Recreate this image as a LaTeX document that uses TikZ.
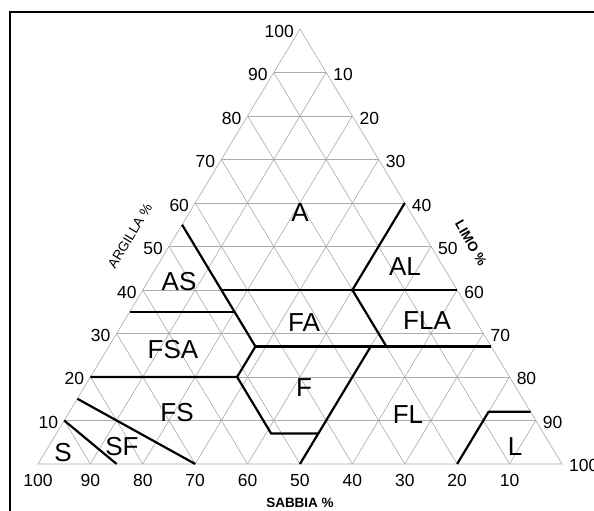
\documentclass[tikz,border=0pt]{standalone}
\usepackage{fontspec}
\setmainfont{Liberation Sans}
\begin{document}
\begin{tikzpicture}[x=1pt,y=-1pt,
  gridline/.style={draw=black!33,line width=0.6pt},
  bound/.style={draw=black,line width=2.2pt,line join=miter},
  ticklab/.style={inner sep=0pt,font=\fontsize{17.5}{19}\selectfont},
  zone/.style={inner sep=0pt,font=\fontsize{26}{29}\selectfont},
  axistitle/.style={inner sep=0pt,font=\fontsize{13.5}{15}\selectfont}]
\useasboundingbox (0,0) rectangle (594,511);
\fill[white] (0,0) rectangle (594,511);
% frame
\draw[line width=1.8pt] (10,520) -- (10,12) -- (600,12);
% triangle corners
\coordinate (Sa) at (38,464);
\coordinate (Si) at (562,464);
\coordinate (Cl) at (300,29);
% grid
\foreach \c in {1,2,...,9} {
  \pgfmathsetmacro\r{10-\c}
  \draw[gridline] (barycentric cs:Sa=\r,Cl=\c,Si=0) -- (barycentric cs:Sa=0,Cl=\c,Si=\r);
  \draw[gridline] (barycentric cs:Sa=\c,Cl=0,Si=\r) -- (barycentric cs:Sa=\c,Cl=\r,Si=0);
  \draw[gridline] (barycentric cs:Sa=\r,Cl=0,Si=\c) -- (barycentric cs:Sa=0,Cl=\r,Si=\c);
}
\draw[gridline] (Sa) -- (Si) -- (Cl) -- cycle;
% tick labels
\foreach \c in {1,2,...,10} {
  \pgfmathsetmacro\r{10-\c}
  \pgfmathtruncatemacro\v{10*\c}
  \node[ticklab,anchor=east,xshift=-6pt,yshift=-2pt] (cl\v) at (barycentric cs:Sa=\r,Cl=\c,Si=0) {\v};
  \node[ticklab,anchor=west,xshift=7pt,yshift=-2pt] (si\v) at (barycentric cs:Sa=0,Cl=\r,Si=\c) {\v};
  \node[ticklab,anchor=center,yshift=-17pt] (sa\v) at (barycentric cs:Sa=\c,Cl=0,Si=\r) {\v};
}
% axis titles
\node[axistitle,rotate=59] (argilla) at (130,236) {ARGILLA \%};
\node[axistitle,font=\fontsize{13.5}{15}\selectfont\bfseries,rotate=-60] (limo) at (471,243) {LIMO \%};
\node[axistitle,font=\fontsize{13.5}{15}\selectfont\bfseries] (sabbia) at (300,503) {SABBIA \%};
% boundary points (weights in tenths)
\coordinate (p1) at (barycentric cs:Sa=4.5,Cl=5.5,Si=0);
\coordinate (p2) at (barycentric cs:Sa=4.5,Cl=4.0,Si=1.5);
\coordinate (p3) at (barycentric cs:Sa=4.5,Cl=3.5,Si=2.0);
\coordinate (p4) at (barycentric cs:Sa=4.5,Cl=2.7,Si=2.8);
\coordinate (p5) at (barycentric cs:Sa=5.2,Cl=2.0,Si=2.8);
\coordinate (p6) at (barycentric cs:Sa=5.2,Cl=0.7,Si=4.1);
\coordinate (p7) at (barycentric cs:Sa=4.3,Cl=0.7,Si=5.0);
\coordinate (p8) at (barycentric cs:Sa=5.0,Cl=0,Si=5.0);
\coordinate (p9) at (barycentric cs:Sa=2.3,Cl=2.7,Si=5.0);
\coordinate (p10) at (barycentric cs:Sa=2.0,Cl=2.7,Si=5.3);
\coordinate (p11) at (barycentric cs:Sa=2.0,Cl=4.0,Si=4.0);
\coordinate (p12) at (barycentric cs:Sa=0,Cl=6.0,Si=4.0);
\coordinate (p13) at (barycentric cs:Sa=0,Cl=4.0,Si=6.0);
\coordinate (p14) at (barycentric cs:Sa=0,Cl=2.7,Si=7.3);
\coordinate (p15) at (barycentric cs:Sa=6.5,Cl=3.5,Si=0);
\coordinate (p16) at (barycentric cs:Sa=8.0,Cl=2.0,Si=0);
\coordinate (p17) at (barycentric cs:Sa=9.0,Cl=1.0,Si=0);
\coordinate (p18) at (barycentric cs:Sa=8.5,Cl=0,Si=1.5);
\coordinate (p19) at (barycentric cs:Sa=8.5,Cl=1.5,Si=0);
\coordinate (p20) at (barycentric cs:Sa=7.0,Cl=0,Si=3.0);
\coordinate (p21) at (barycentric cs:Sa=2.0,Cl=0,Si=8.0);
\coordinate (p22) at (barycentric cs:Sa=0.8,Cl=1.2,Si=8.0);
\coordinate (p23) at (barycentric cs:Sa=0,Cl=1.2,Si=8.8);
% boundaries
\draw[bound] (p1) -- (p4);
\draw[bound] (p2) -- (p13);
\draw[bound] (p12) -- (p11) -- (p10);
\draw[bound] (p4) -- (p14);
\draw[bound] (p4) -- (p5);
\draw[bound] (p16) -- (p5) -- (p6) -- (p7);
\draw[bound] (p15) -- (p3);
\draw[bound] (p9) -- (p8);
\draw[bound] (p17) -- (p18);
\draw[bound] (p19) -- (p20);
\draw[bound] (p21) -- (p22) -- (p23);
% zone labels
\node[zone] (zA) at (300,213) {A};
\node[zone] (zAS) at (179,282) {AS};
\node[zone] (zAL) at (405,267) {AL};
\node[zone] (zFA) at (304,323) {FA};
\node[zone] (zFLA) at (427,321) {FLA};
\node[zone] (zFSA) at (173,350) {FSA};
\node[zone] (zF) at (304,388) {F};
\node[zone] (zFS) at (177,413) {FS};
\node[zone] (zFL) at (408,415) {FL};
\node[zone] (zS) at (63,453) {S};
\node[zone] (zSF) at (122,447) {SF};
\node[zone] (zL) at (515,447) {L};
\end{tikzpicture}
\end{document}
